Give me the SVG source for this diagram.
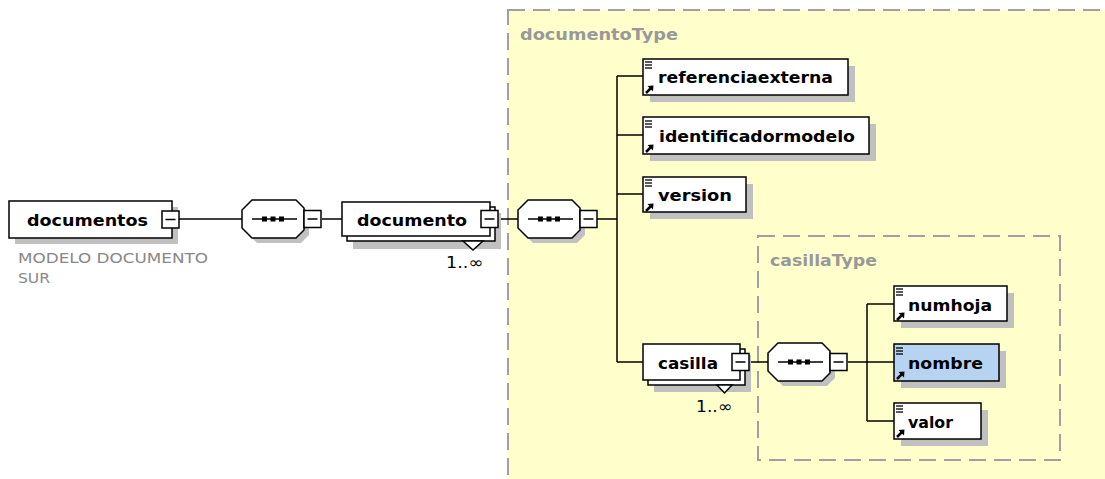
<svg xmlns="http://www.w3.org/2000/svg" width="1105" height="479" viewBox="0 0 1105 479">
<defs>
<style>
.box{fill:#fff;stroke:#000;stroke-width:1.5}
.sh{fill:#c0c0c0;stroke:none}
.ln{fill:none;stroke:#000;stroke-width:1.5}
.lbl{font-family:"DejaVu Sans",Verdana,sans-serif;font-weight:bold;font-size:16.5px;fill:#000}
.ttl{font-family:"DejaVu Sans",Verdana,sans-serif;font-weight:bold;font-size:16px;fill:#999}
.ann{font-family:"DejaVu Sans",Verdana,sans-serif;font-size:14px;fill:#888}
.occ{font-family:"DejaVu Sans",Verdana,sans-serif;font-size:15.5px;fill:#000}
.dash{fill:#ffffcc;stroke:#a0a0a0;stroke-width:2;stroke-dasharray:17 8}
</style>
<g id="minus">
<rect x="0" y="0" width="17" height="17" class="box"/>
<line x1="3.5" y1="8.5" x2="13.5" y2="8.5" class="ln"/>
</g>
<g id="seq">
<polygon points="15,5 59,5 67,13 67,35 59,43 15,43 5,33 5,15" class="sh"/>
<polygon points="10,0 54,0 62,8 62,30 54,38 10,38 0,28 0,10" class="box"/>
<line x1="10" y1="19" x2="55" y2="19" class="ln"/>
<rect x="20" y="16.5" width="5" height="5" fill="#000"/>
<rect x="28.5" y="16.5" width="5" height="5" fill="#000"/>
<rect x="37" y="16.5" width="5" height="5" fill="#000"/>
</g>
<g id="icon">
<line x1="2" y1="3" x2="9" y2="3" stroke="#000" stroke-width="1.3"/>
<line x1="2" y1="6" x2="9" y2="6" stroke="#000" stroke-width="1.3"/>
<line x1="2" y1="9" x2="9" y2="9" stroke="#000" stroke-width="1.3"/>
<line x1="3" y1="34" x2="8" y2="29" stroke="#000" stroke-width="2.5"/>
<polygon points="4.5,27 10.5,26.5 10,32.5" fill="#000"/>
</g>
</defs>

<rect x="0" y="0" width="1105" height="479" fill="#fff"/>

<g id="documentoType">
<rect x="508" y="10" width="620" height="500" class="dash"/>
<text x="520" y="40" class="ttl" textLength="158" lengthAdjust="spacingAndGlyphs">documentoType</text>
</g>
<g id="casillaType">
<rect x="758" y="236" width="302" height="224" class="dash"/>
<text x="770" y="266" class="ttl" textLength="107" lengthAdjust="spacingAndGlyphs">casillaType</text>
</g>

<g id="connectors">
<line x1="179" y1="219" x2="242" y2="219" class="ln"/>
<line x1="322" y1="219" x2="342" y2="219" class="ln"/>
<line x1="499" y1="219" x2="518" y2="219" class="ln"/>
<polyline points="597,219 617,219" class="ln"/>
<line x1="617" y1="76" x2="617" y2="362" class="ln"/>
<line x1="617" y1="76" x2="643" y2="76" class="ln"/>
<line x1="617" y1="135" x2="643" y2="135" class="ln"/>
<line x1="617" y1="194" x2="643" y2="194" class="ln"/>
<line x1="617" y1="362" x2="643" y2="362" class="ln"/>
<line x1="749" y1="362" x2="768" y2="362" class="ln"/>
<line x1="848" y1="362" x2="894" y2="362" class="ln"/>
<line x1="867" y1="304" x2="867" y2="421" class="ln"/>
<line x1="867" y1="304" x2="894" y2="304" class="ln"/>
<line x1="867" y1="421" x2="894" y2="421" class="ln"/>
</g>

<g id="documentos">
<rect x="15" y="207" width="163" height="37" class="sh"/>
<rect x="9" y="201" width="163" height="37" class="box"/>
<text x="27" y="226" class="lbl" textLength="121" lengthAdjust="spacingAndGlyphs">documentos</text>
<use href="#minus" x="162" y="211"/>
<text x="18" y="263" class="ann" textLength="190" lengthAdjust="spacingAndGlyphs">MODELO DOCUMENTO</text>
<text x="18" y="283" class="ann" textLength="32" lengthAdjust="spacingAndGlyphs">SUR</text>
</g>

<g id="seq1">
<use href="#seq" x="242" y="200"/>
<use href="#minus" x="304" y="210.5"/>
</g>

<g id="documento">
<rect x="353" y="213" width="148" height="36" class="sh"/>
<rect x="347" y="207" width="148" height="34" class="box"/>
<rect x="342" y="202" width="148" height="34" class="box"/>
<polygon points="463,241 483,241 473,250" class="box"/>
<text x="357" y="226" class="lbl" textLength="110" lengthAdjust="spacingAndGlyphs">documento</text>
<use href="#minus" x="481" y="210.5"/>
<text x="446" y="268" class="occ" textLength="37" lengthAdjust="spacingAndGlyphs">1..∞</text>
</g>

<g id="seq2">
<use href="#seq" x="518" y="200"/>
<use href="#minus" x="580" y="210.5"/>
</g>

<g id="referenciaexterna">
<rect x="650" y="66" width="205" height="36" class="sh"/>
<rect x="643" y="59" width="205" height="36" class="box"/>
<use href="#icon" x="643" y="59"/>
<text x="658" y="83" class="lbl" textLength="175" lengthAdjust="spacingAndGlyphs">referenciaexterna</text>
</g>

<g id="identificadormodelo">
<rect x="650" y="124" width="226" height="37" class="sh"/>
<rect x="643" y="117" width="226" height="37" class="box"/>
<use href="#icon" x="643" y="118"/>
<text x="659" y="142" class="lbl" textLength="196" lengthAdjust="spacingAndGlyphs">identificadormodelo</text>
</g>

<g id="version">
<rect x="650" y="184" width="103" height="35" class="sh"/>
<rect x="643" y="177" width="103" height="35" class="box"/>
<use href="#icon" x="643" y="177"/>
<text x="658" y="201" class="lbl" textLength="74" lengthAdjust="spacingAndGlyphs">version</text>
</g>

<g id="casilla">
<rect x="654" y="355" width="97" height="37" class="sh"/>
<rect x="648" y="349" width="97" height="36" class="box"/>
<rect x="643" y="344" width="97" height="36" class="box"/>
<polygon points="717,385 732,385 724.5,393" class="box"/>
<text x="658" y="369" class="lbl" textLength="60" lengthAdjust="spacingAndGlyphs">casilla</text>
<use href="#minus" x="732" y="353.5"/>
<text x="696" y="412" class="occ" textLength="36" lengthAdjust="spacingAndGlyphs">1..∞</text>
</g>

<g id="seq3">
<use href="#seq" x="768" y="343"/>
<use href="#minus" x="830" y="353.5"/>
</g>

<g id="numhoja">
<rect x="901" y="293" width="113" height="35" class="sh"/>
<rect x="894" y="286" width="113" height="35" class="box"/>
<use href="#icon" x="894" y="286"/>
<text x="908" y="311" class="lbl" textLength="84" lengthAdjust="spacingAndGlyphs">numhoja</text>
</g>

<g id="nombre">
<rect x="901" y="351" width="105" height="37" class="sh"/>
<rect x="894" y="344" width="105" height="37" fill="#b6d3f2" stroke="#000" stroke-width="1.5"/>
<use href="#icon" x="894" y="345"/>
<text x="908" y="369" class="lbl" textLength="75" lengthAdjust="spacingAndGlyphs">nombre</text>
</g>

<g id="valor">
<rect x="901" y="410" width="87" height="36" class="sh"/>
<rect x="894" y="403" width="87" height="36" class="box"/>
<use href="#icon" x="894" y="403"/>
<text x="908" y="428" class="lbl" textLength="45" lengthAdjust="spacingAndGlyphs">valor</text>
</g>
</svg>
